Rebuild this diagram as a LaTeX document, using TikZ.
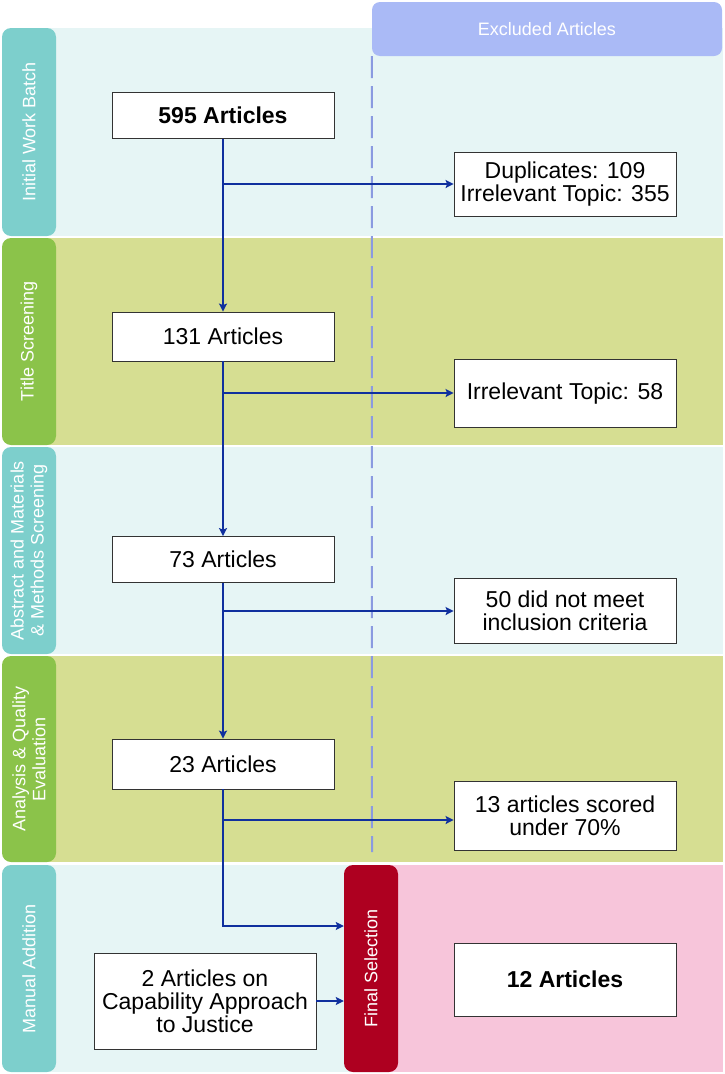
\documentclass[tikz,border=0pt]{standalone}
\usepackage{fontspec}
\setmainfont{Liberation Sans}
\usetikzlibrary{arrows.meta}
\definecolor{cyanbg}{HTML}{E6F5F5}
\definecolor{olivebg}{HTML}{D6DE92}
\definecolor{tealbox}{HTML}{7DCFCC}
\definecolor{greenbox}{HTML}{8BC34A}
\definecolor{hdrcol}{HTML}{AABAF6}
\definecolor{finalred}{HTML}{AE0020}
\definecolor{pinkbg}{HTML}{F7C5DA}
\definecolor{arrowblue}{HTML}{10309E}
\definecolor{dashcol}{HTML}{8A9AE0}
\begin{document}
\begin{tikzpicture}[x=1pt,y=-1pt,
  lanebox/.style={rounded corners=9pt, inner sep=0pt, minimum width=54pt},
  lanetext/.style={rotate=90, text=white, align=center, inner sep=0pt,
     font=\fontsize{18}{20}\selectfont},
  artbox/.style={draw=black!80, line width=0.8pt, fill=white, inner sep=0pt,
     minimum width=222pt, align=center, font=\fontsize{23}{23}\selectfont},
  arr/.style={draw=arrowblue, line width=2pt,
     -{Stealth[length=8pt,width=8pt,inset=1.5pt]}},
  dashline/.style={draw=dashcol, line width=2pt, dash pattern=on 22pt off 8pt}
]
\useasboundingbox (0,0) rectangle (724,1074);

% band backgrounds
\fill[cyanbg]  (40,28)  rectangle (723,236);
\fill[olivebg] (40,238) rectangle (723,445);
\fill[cyanbg]  (40,447) rectangle (723,654);
\fill[olivebg] (40,656) rectangle (723,862);
\fill[cyanbg]  (40,865) rectangle (360,1072);
\fill[pinkbg]  (380,865) rectangle (723,1072);

% header
\node[rounded corners=8pt, fill=hdrcol, minimum width=350pt, minimum height=54pt,
      inner sep=0pt, text=white, font=\fontsize{18}{20}\selectfont]
      (hdr) at (547,29) {Excluded Articles};

% lane label boxes
\node[lanebox, fill=tealbox,  minimum height=208pt] (l1) at (29,132) {};
\node[lanebox, fill=greenbox, minimum height=207pt] (l2) at (29,341.5) {};
\node[lanebox, fill=tealbox,  minimum height=207pt] (l3) at (29,550.5) {};
\node[lanebox, fill=greenbox, minimum height=206pt] (l4) at (29,759) {};
\node[lanebox, fill=tealbox,  minimum height=207pt] (l5) at (29,968.5) {};
\node[lanetext] at (l1) {Initial Work Batch};
\node[lanetext] at (l2) {Title Screening};
\node[lanetext] at (l3) {Abstract and Materials\\\& Methods Screening};
\node[lanetext] at (l4) {Analysis \& Quality\\Evaluation};
\node[lanetext] at (l5) {Manual Addition};

% final selection
\node[rounded corners=9pt, fill=finalred, minimum width=54pt, minimum height=207pt,
      inner sep=0pt] (final) at (371,968.5) {};
\node[lanetext] at (final) {Final Selection};

% dashed divider
\coordinate (dashend) at (372,852);
\draw[dashline] (hdr.south west) -- (dashend);

% article boxes
\node[artbox, minimum height=46pt, font=\fontsize{23}{23}\selectfont\bfseries] (a595) at (223,115.5) {595 Articles};
\node[artbox, minimum height=49pt] (a131) at (223,336.5) {131 Articles};
\node[artbox, minimum height=46pt] (a73)  at (223,559.5) {73 Articles};
\node[artbox, minimum height=50pt] (a23)  at (223,764) {23 Articles};
\node[artbox, minimum height=96pt] (a2)   at (205,1001) {2 Articles on\\Capability Approach\\to Justice};

\node[artbox, minimum height=64pt] (ex1) at (565,184.5) {Duplicates: 109\\Irrelevant Topic: 355};
\node[artbox, minimum height=68pt] (ex2) at (565,393.5) {Irrelevant Topic: 58};
\node[artbox, minimum height=65pt] (ex3) at (565,610.5) {50 did not meet\\inclusion criteria};
\node[artbox, minimum height=69pt] (ex4) at (565,816) {13 articles scored\\under 70\%};
\node[artbox, minimum height=73pt, font=\fontsize{23}{23}\selectfont\bfseries] (a12) at (565,979.5) {12 Articles};

% connectors
\draw[arr] (a595.south) -- (a131.north);
\draw[arr] (a131.south) -- (a73.north);
\draw[arr] (a73.south) -- (a23.north);
\coordinate (b1) at (223,184);
\coordinate (b2) at (223,393);
\coordinate (b3) at (223,611);
\coordinate (b4) at (223,820);
\draw[arr] (b1) -- (b1 -| ex1.west);
\draw[arr] (b2) -- (b2 -| ex2.west);
\draw[arr] (b3) -- (b3 -| ex3.west);
\draw[arr] (b4) -- (b4 -| ex4.west);
\coordinate (j) at (223,926);
\draw[arr] (a23.south) |- (j -| final.west);
\draw[arr] (a2.east) -- (a2.east -| final.west);
\end{tikzpicture}
\end{document}
